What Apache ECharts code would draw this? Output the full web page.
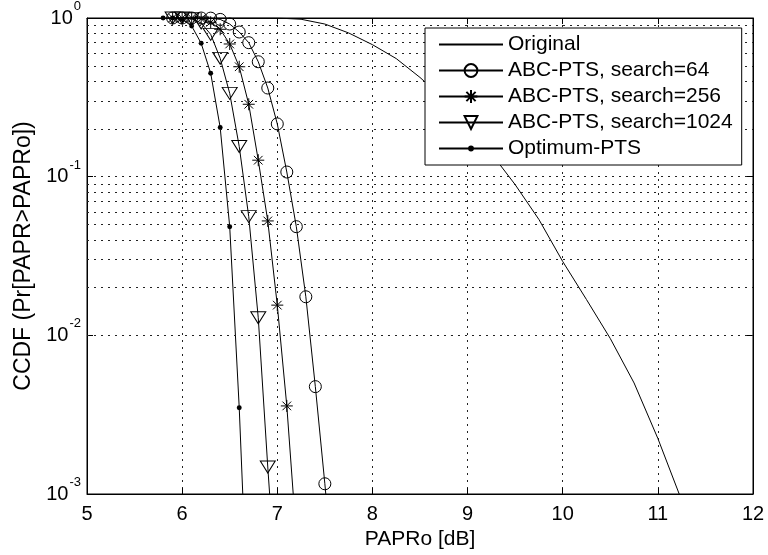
<!DOCTYPE html>
<html><head><meta charset="utf-8">
<script src="https://cdn.jsdelivr.net/npm/echarts@6/dist/echarts.min.js"></script>
<style>html,body{margin:0;padding:0;background:#fff}#c{width:768px;height:555px}</style>
</head><body><div id="c"></div>
<script>
// ---- data ----
const origX = [6.0, 6.5, 7.0, 7.25, 7.5, 7.75, 8.0, 8.25, 8.5, 8.75, 9.0, 9.25, 9.5, 9.75, 10.0, 10.25, 10.5, 10.75, 11.0, 11.25];
const origY = [1.0, 1.0, 1.0, 0.982, 0.916, 0.805, 0.679, 0.555, 0.422, 0.309, 0.214, 0.140, 0.0891, 0.0537, 0.0292, 0.0168, 0.00955, 0.00501, 0.00224, 0.000912];

const abc64X = [5.9, 6.0, 6.1, 6.2, 6.3, 6.4, 6.5, 6.6, 6.7, 6.8, 6.9, 7.0, 7.1, 7.2, 7.3, 7.4, 7.5, 7.6];
const abc64Y = [1.0, 1.0, 1.0, 1.0, 0.998, 0.98, 0.916, 0.816, 0.699, 0.53, 0.362, 0.215, 0.107, 0.0484, 0.0175, 0.00475, 0.00116, 0.00025];

const abc256X = [5.9, 6.0, 6.1, 6.2, 6.3, 6.4, 6.5, 6.6, 6.7, 6.8, 6.9, 7.0, 7.1, 7.2];
const abc256Y = [1.0, 1.0, 1.0, 0.99, 0.94, 0.849, 0.686, 0.493, 0.286, 0.127, 0.0526, 0.0155, 0.00359, 0.00054];

const abc1024X = [5.9, 6.0, 6.1, 6.2, 6.3, 6.4, 6.5, 6.6, 6.7, 6.8, 6.9, 7.0];
const abc1024Y = [1.0, 1.0, 0.99, 0.93, 0.789, 0.557, 0.335, 0.155, 0.056, 0.0129, 0.00148, 0.0002];

const optX = [5.8, 5.9, 6.0, 6.1, 6.2, 6.3, 6.4, 6.5, 6.6, 6.7];
const optY = [1.0, 1.0, 0.98, 0.89, 0.693, 0.449, 0.204, 0.0484, 0.0035, 0.00012];

const seriesNames = ['Original', 'ABC-PTS, search=64', 'ABC-PTS, search=256', 'ABC-PTS, search=1024', 'Optimum-PTS'];
const xTicks = [5, 6, 7, 8, 9, 10, 11, 12];
const yDecades = [0.001, 0.01, 0.1, 1];
const minorGridValues = [];
for (let k = -3; k < 0; k++) for (let m = 2; m <= 9; m++) minorGridValues.push(+(m * Math.pow(10, k)).toPrecision(3));

// ---- rendering ----
const FONT = 'Liberation Sans, Arial, Helvetica, sans-serif';
const pair = (xs, ys) => xs.map((x, i) => [x, ys[i]]);
const dotted = { color: '#222', width: 1, type: [2, 5] };
const STAR = 'path://M0,-1L0,1M-1,0L1,0M-0.72,-0.72L0.72,0.72M-0.72,0.72L0.72,-0.72';
const TRI = 'path://M-1,-1L1,-1L0,1Z';
const DOT = 'path://M-2,-2M2,2M-0.9,0A0.9,0.9,0,1,0,0.9,0A0.9,0.9,0,1,0,-0.9,0Z';

function lineSeries(name, data, symbol, size, fill) {
  return {
    name, type: 'line', data, symbol, symbolSize: size, showSymbol: symbol !== 'none',
    clip: true,
    lineStyle: { color: '#000', width: 1 },
    itemStyle: { color: fill, borderColor: '#000', borderWidth: fill === '#000' ? 0 : 1 },
    emphasis: { disabled: true }, z: 3
  };
}

const orig = lineSeries(seriesNames[0], pair(origX, origY), 'circle', 0, 'transparent');
orig.showSymbol = false;
orig.itemStyle.borderWidth = 0;
orig.markLine = {
  silent: true, symbol: 'none', label: { show: false }, animation: false,
  lineStyle: dotted, data: minorGridValues.map(v => ({ yAxis: v }))
};
orig.z = 4;

const chart = echarts.init(document.getElementById('c'), null, { renderer: 'canvas' });
chart.setOption({
  animation: false,
  backgroundColor: '#fff',
  grid: { left: 87, right: 15, top: 18, bottom: 61, show: true, borderColor: '#000', borderWidth: 1, backgroundColor: 'transparent' },
  legend: {
    left: 425, top: 28, orient: 'vertical',
    padding: [6, 9, 6, 13], itemGap: 5, itemWidth: 64, itemHeight: 16,
    backgroundColor: '#fff', borderColor: '#000', borderWidth: 1,
    textStyle: { fontSize: 21, color: '#000', fontFamily: FONT },
    data: seriesNames, selectedMode: false, z: 10
  },
  xAxis: [{
    type: 'value', min: xTicks[0], max: xTicks[xTicks.length - 1], interval: 1,
    name: 'PAPRo [dB]', nameLocation: 'middle', nameGap: 35,
    nameTextStyle: { fontSize: 21, color: '#000', fontFamily: FONT },
    axisLine: { lineStyle: { color: '#000', width: 1 } },
    axisTick: { inside: true, length: 6, lineStyle: { color: '#000' } },
    axisLabel: { fontSize: 20, color: '#000', margin: 10, fontFamily: FONT },
    splitLine: { show: true, lineStyle: dotted }
  }, {
    type: 'value', position: 'top', min: xTicks[0], max: xTicks[xTicks.length - 1], interval: 1,
    axisLine: { lineStyle: { color: '#000' } },
    axisTick: { inside: true, length: 6, lineStyle: { color: '#000' } },
    axisLabel: { show: false }, splitLine: { show: false }
  }],
  yAxis: [{
    type: 'log', logBase: 10, min: yDecades[0], max: yDecades[yDecades.length - 1],
    name: 'CCDF (Pr[PAPR>PAPRo])', nameLocation: 'middle', nameGap: 51,
    nameTextStyle: { fontSize: 23, color: '#000', fontFamily: FONT },
    axisLine: { show: true, lineStyle: { color: '#000', width: 1 } },
    axisTick: { show: true, inside: true, length: 6, lineStyle: { color: '#000' } },
    axisLabel: {
      margin: 6, fontFamily: FONT,
      formatter: v => '{b|10}{s|' + Math.round(Math.log10(v)) + '}',
      rich: {
        b: { fontSize: 20, color: '#000', fontFamily: FONT, padding: [8, 0, 8, 0], verticalAlign: 'bottom' },
        s: { fontSize: 13, color: '#000', fontFamily: FONT, verticalAlign: 'top', padding: [0, 0, 0, 1] }
      }
    },
    splitLine: { show: true, lineStyle: dotted }
  }, {
    type: 'log', logBase: 10, position: 'right', min: yDecades[0], max: yDecades[yDecades.length - 1],
    axisLine: { show: true, lineStyle: { color: '#000' } },
    axisTick: { show: true, inside: true, length: 6, lineStyle: { color: '#000' } },
    axisLabel: { show: false }, splitLine: { show: false }
  }],
  series: [
    orig,
    lineSeries(seriesNames[1], pair(abc64X, abc64Y), 'circle', 12, 'transparent'),
    lineSeries(seriesNames[2], pair(abc256X, abc256Y), STAR, 12, 'transparent'),
    lineSeries(seriesNames[3], pair(abc1024X, abc1024Y), TRI, [15, 12], 'transparent'),
    lineSeries(seriesNames[4], pair(optX, optY), DOT, 11, '#000')
  ]
});
</script></body></html>
